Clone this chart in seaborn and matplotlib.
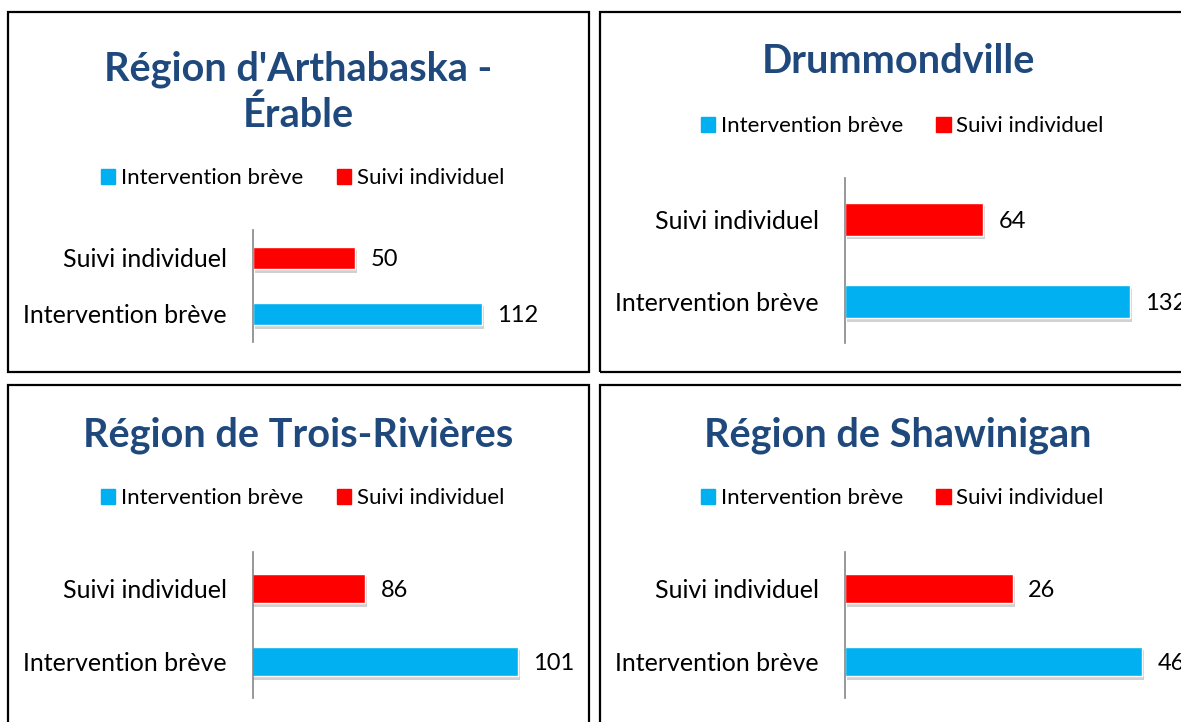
import matplotlib
matplotlib.use('Agg')
import matplotlib.pyplot as plt
import matplotlib.patheffects as pe
from matplotlib.patches import Rectangle, Patch
import pandas as pd
import seaborn as sns

# Data
titles = ["Région d'Arthabaska -\nÉrable", "Drummondville",
          "Région de Trois-Rivières", "Région de Shawinigan"]
categories = ["Suivi individuel", "Intervention brève"]
suivi_individuel = [50, 64, 86, 26]
intervention_breve = [112, 132, 101, 46]
x_limits = [(0, 120), (0, 140), (75, 105), (0, 50)]
colors = {"Intervention brève": "#00B0F0", "Suivi individuel": "#FF0000"}
title_color = "#1F497D"

W, H = 1181, 722

# panel layout in pixels: box (x, y, w, h), axes (left, top, width, height),
# title baseline, legend centre y
boxes = [(8, 12, 581, 360), (600, 12, 596, 360), (8, 385, 581, 360), (600, 385, 596, 360)]
axes_px = [(253, 230, 245, 112), (845, 178, 302, 165), (253, 552, 306, 146), (845, 552, 323, 146)]
title_y = [80, 73, 447, 447]
legend_y = [178, 126, 498, 498]

sns.set_style('white')
plt.rcParams['font.family'] = ['Lato', 'DejaVu Sans']
plt.rcParams['text.color'] = 'black'


def fx(px):
    return px / W


def fy(py):
    return 1 - py / H


fig = plt.figure(figsize=(W / 100, H / 100), dpi=100)

for i in range(4):
    bx, by, bw, bh = boxes[i]
    fig.patches.append(Rectangle((fx(bx), fy(by + bh)), bw / W, bh / H, transform=fig.transFigure,
                                 fill=False, edgecolor='black', linewidth=1.6))

    # title, line by line
    cx = bx + bw / 2
    for k, line in enumerate(titles[i].split('\n')):
        fig.text(fx(cx), fy(title_y[i] + 47 * k), line, ha='center', va='baseline',
                 fontsize=28.5, fontweight='bold', color=title_color)

    # legend
    handles = [Patch(color=colors["Intervention brève"]), Patch(color=colors["Suivi individuel"])]
    leg = fig.legend(handles, ["Intervention brève", "Suivi individuel"], loc='center',
                     bbox_to_anchor=(fx(cx + 4), fy(legend_y[i])), ncol=2, frameon=False,
                     fontsize=16, handlelength=0.65, handleheight=0.65, handletextpad=0.25,
                     columnspacing=1.5, borderpad=0, labelcolor='black')

    # bars
    al, at, aw, ah = axes_px[i]
    ax = fig.add_axes([fx(al), fy(at + ah), aw / W, ah / H])
    df = pd.DataFrame({'categorie': categories,
                       'valeur': [suivi_individuel[i], intervention_breve[i]]})
    sns.barplot(data=df, y='categorie', x='valeur', hue='categorie', order=categories,
                palette=colors, width=0.4, saturation=1, legend=False, ax=ax, orient='h')
    for p in ax.patches:
        p.set_path_effects([pe.SimplePatchShadow(offset=(1.5, -2.5), shadow_rgbFace='black', alpha=0.18),
                            pe.Normal()])
    for c in ax.containers:
        labels = ax.bar_label(c, fmt='%d', padding=11, fontsize=17, color='black')
        for t in labels:
            t.set_va('center_baseline')
    ax.set_xlim(*x_limits[i])
    ax.set_ylim(1.5, -0.5)
    ax.set(xlabel='', ylabel='')
    ax.set_xticks([])
    ax.tick_params(axis='y', length=0, pad=19, labelsize=18, labelcolor='black')
    for s in ['top', 'right', 'bottom']:
        ax.spines[s].set_visible(False)
    ax.spines['left'].set_color('#868686')
    ax.spines['left'].set_linewidth(1.2)
    ax.patch.set_alpha(0)
    for t in ax.texts:
        t.set_clip_on(False)

fig.savefig('out.png', dpi=100)
